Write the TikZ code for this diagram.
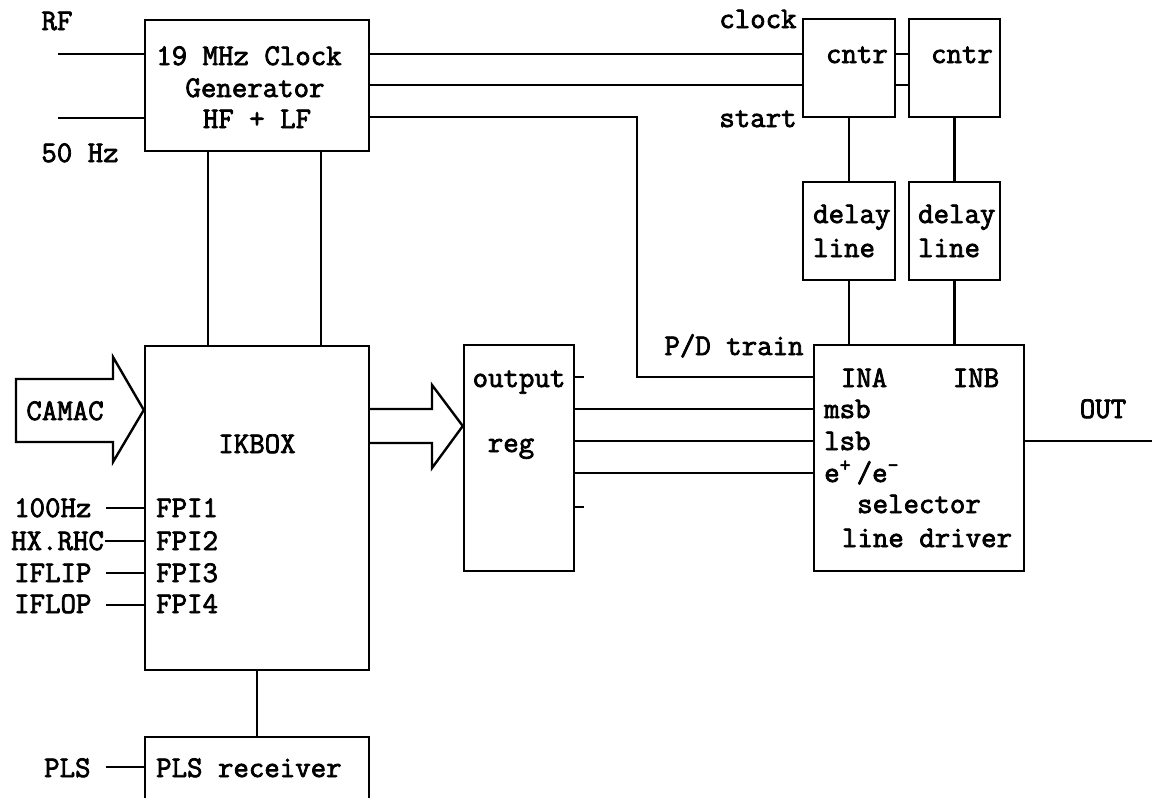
\documentclass[tikz,border=0pt]{standalone}
\usepackage{fontspec}
\newfontfamily\tw[FakeBold=2.5]{Latin Modern Mono}
\begin{document}
\begin{tikzpicture}[x=0.5pt,y=-0.5pt,line width=1.2pt,
  box/.style 2 args={draw,inner sep=0pt,minimum width=#1,minimum height=#2},
  txt/.style={font=\tw\fontsize{15}{16}\selectfont,inner sep=0pt,anchor=base},
  txtw/.style={txt,anchor=base west}]
\useasboundingbox (0,0) rectangle (1152,798);
\clip (0,0) rectangle (1152,798);
% boxes
\node[box={112pt}{65.5pt}] (gen) at (257,85.5) {};
\node[box={46pt}{49pt}] (cntrA) at (849,68) {};
\node[box={45.5pt}{49pt}] (cntrB) at (954.5,68) {};
\node[box={46pt}{49pt}] (delA) at (849,231) {};
\node[box={45.5pt}{49pt}] (delB) at (954.5,231) {};
\node[box={105pt}{113pt}] (sel) at (919,458) {};
\node[box={55pt}{113pt}] (reg) at (519,458) {};
\node[box={112pt}{162pt}] (ik) at (257,508) {};
\node[box={112pt}{40pt}] (pls) at (257,777) {};
% texts
\node[txt] (t1) at (249,65) {19 MHz Clock};
\node[txt] (t2) at (255,97) {Generator};
\node[txt] (t3) at (257,128) {HF + LF};
\node[txt] (rf) at (57,30) {RF};
\node[txt] (hz) at (80,162) {50 Hz};
\node[txt] (clk) at (758,28) {clock};
\node[txt] (sta) at (758,127) {start};
\node[txt] (c1) at (857,63) {cntr};
\node[txt] (c2) at (962,63) {cntr};
\node[txtw] (d1a) at (812,223) {delay};
\node[txtw] (d1b) at (812,257) {line};
\node[txtw] (d2a) at (917,223) {delay};
\node[txtw] (d2b) at (917,257) {line};
\node[txt] (pd) at (734,355) {P/D train};
\node[txt] (ina) at (864,387) {INA};
\node[txt] (inb) at (976,387) {INB};
\node[txtw] (msb) at (823,418) {msb};
\node[txtw] (lsb) at (823,450) {lsb};
\node[txtw] (epm) at (823,482) {e\textsuperscript{+}\,/e\textsuperscript{-}};
\node[txt] (slc) at (919,513) {selector};
\node[txt] (ldr) at (927,547) {line driver};
\node[txt] (out) at (1103,418) {OUT};
\node[txt] (outp) at (519,387) {output};
\node[txt] (rg) at (511,452) {reg};
\node[txt] (ikb) at (257,453) {IKBOX};
\node[txt] (cam) at (65,420) {CAMAC};
\node[txtw] (f1) at (155,517) {FPI1};
\node[txtw] (f2) at (155,550) {FPI2};
\node[txtw] (f3) at (155,582) {FPI3};
\node[txtw] (f4) at (155,613) {FPI4};
\node[txtw] (l1) at (13,517) {100Hz};
\node[txtw] (l2) at (10,550) {HX.RHC};
\node[txtw] (l3) at (13,582) {IFLIP};
\node[txtw] (l4) at (13,613) {IFLOP};
\node[txtw] (plsl) at (43,777) {PLS};
\node[txtw] (plsr) at (155,777) {PLS receiver};
% free ends
\coordinate (rfin) at (58,54);
\coordinate (hzin) at (58,118);
\coordinate (i1) at (106,508);
\coordinate (i2) at (105,541);
\coordinate (i3) at (106,573);
\coordinate (i4) at (106,605);
\coordinate (pin) at (106,767);
\coordinate (oend) at (1152,441);
\coordinate (s1) at (584,377);
\coordinate (s2) at (584,507);
% connectors
\draw (rfin) -- (rfin -| gen.west);
\draw (hzin) -- (hzin -| gen.west);
\draw (gen.east |- 0,54) -- (cntrA.west |- 0,54);
\draw (gen.east |- 0,85) -- (cntrA.west |- 0,85);
\draw (cntrA.east |- 0,54) -- (cntrB.west |- 0,54);
\draw (cntrA.east |- 0,85) -- (cntrB.west |- 0,85);
\draw (gen.east |- 0,117) -| (637,377) -- (sel.west |- 0,377);
\draw (cntrA.south) -- (delA.north);
\draw (cntrB.south) -- (delB.north);
\draw (delA.south) -- (delA.south |- sel.north);
\draw (delB.south) -- (delB.south |- sel.north);
\draw (gen.south -| 208,0) -- (ik.north -| 208,0);
\draw (gen.south -| 321,0) -- (ik.north -| 321,0);
\draw (reg.east |- 0,409) -- (sel.west |- 0,409);
\draw (reg.east |- 0,441) -- (sel.west |- 0,441);
\draw (reg.east |- 0,473) -- (sel.west |- 0,473);
\draw (reg.east |- s1) -- (s1);
\draw (reg.east |- s2) -- (s2);
\draw (sel.east |- oend) -- (oend);
\draw (i1) -- (i1 -| ik.west);
\draw (i2) -- (i2 -| ik.west);
\draw (i3) -- (i3 -| ik.west);
\draw (i4) -- (i4 -| ik.west);
\draw (ik.south) -- (pls.north);
\draw (pin) -- (pin -| pls.west);
% hollow arrows
\draw (16,379) -- (113,379) -- (113,357) -- (ik.west |- 0,410) -- (113,462) -- (113,442) -- (16,442) -- cycle;
\draw (ik.east |- 0,409) -- (432,409) -- (432,385) -- (reg.west |- 0,426) -- (432,468) -- (432,443) -- (ik.east |- 0,443);
\end{tikzpicture}
\end{document}
